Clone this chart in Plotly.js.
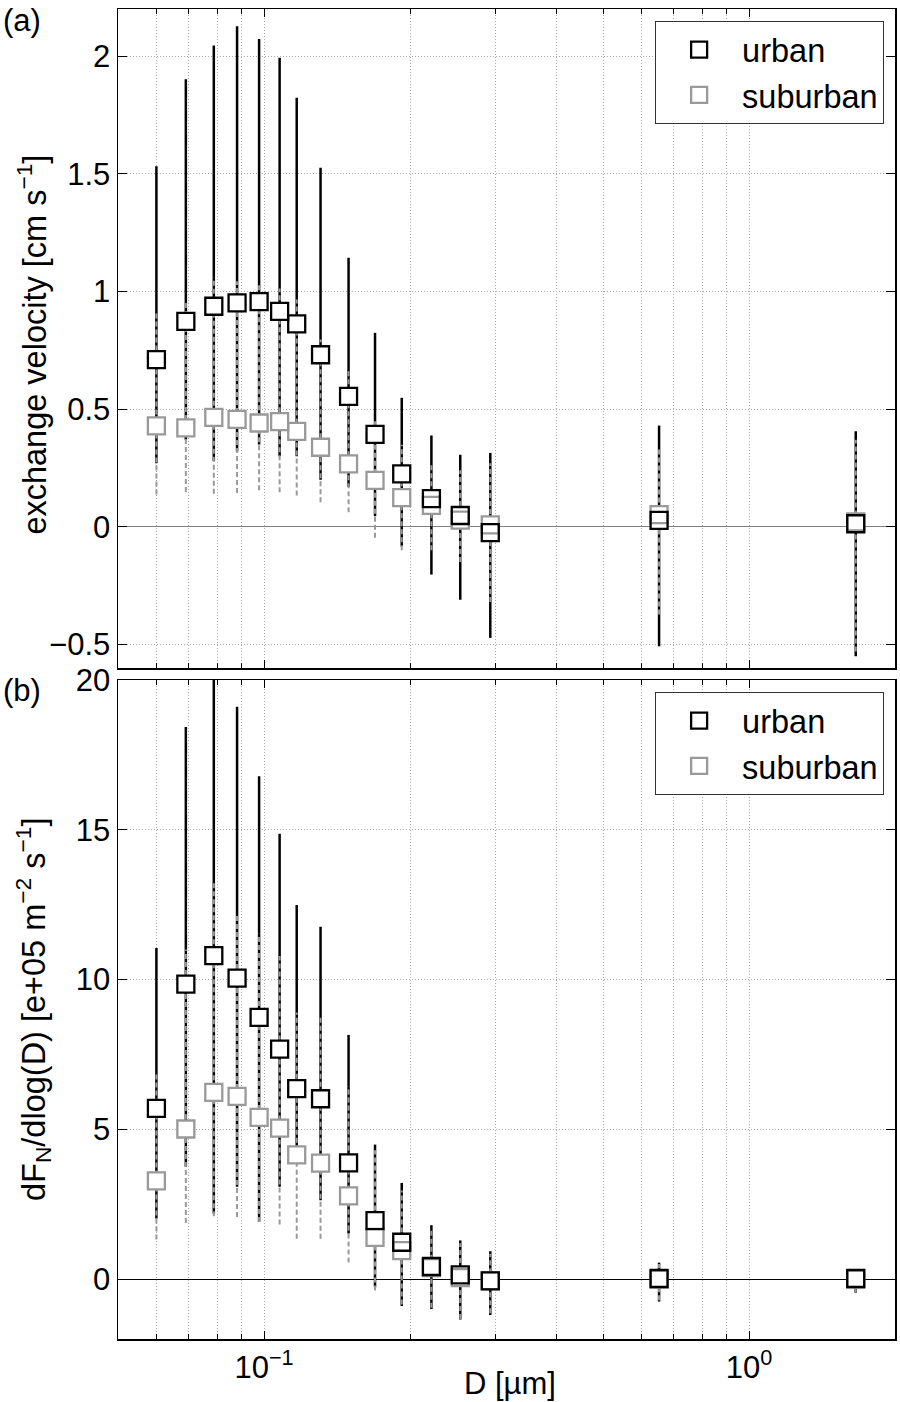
<!DOCTYPE html>
<html>
<head>
<meta charset="utf-8">
<script src="https://cdn.plot.ly/plotly-3.0.1.min.js"></script>
<style>
  html, body { margin: 0; padding: 0; background: #fff; }
  #chart { width: 900px; height: 1402px; }
</style>
</head>
<body>
<div id="chart"></div>
<script>
// particle diameter bins [um]
const diameters = [0.06, 0.069, 0.0788, 0.088, 0.0977, 0.1077, 0.1168, 0.1308, 0.1494, 0.1694, 0.1923, 0.2214, 0.2539, 0.2928, 0.6525, 1.66];

// (a) exchange velocity [cm/s]
const urbanVel   = [0.71, 0.873, 0.937, 0.951, 0.957, 0.915, 0.862, 0.731, 0.554, 0.393, 0.225, 0.12, 0.048, -0.025, 0.027, 0.013];
const urbanVelHi = [1.532, 1.901, 2.045, 2.127, 2.073, 1.993, 1.823, 1.525, 1.143, 0.824, 0.548, 0.388, 0.306, 0.314, 0.43, 0.406];
const urbanVelLo = [0.27, 0.37, 0.28, 0.32, 0.35, 0.30, 0.30, 0.20, 0.17, 0.045, -0.083, -0.203, -0.31, -0.472, -0.508, -0.55];
const subVel     = [0.429, 0.42, 0.465, 0.456, 0.441, 0.447, 0.405, 0.338, 0.267, 0.197, 0.124, 0.091, 0.028, 0.008, 0.052, 0.021];
const subVelHi   = [0.91, 0.958, 1.059, 1.043, 1.037, 1.012, 0.966, 0.796, 0.661, 0.448, 0.349, 0.264, 0.24, 0.27, 0.33, 0.37];
const subVelLo   = [0.137, 0.148, 0.14, 0.144, 0.155, 0.147, 0.133, 0.104, 0.062, -0.047, -0.1, -0.1, -0.15, -0.32, -0.373, -0.53];

// (b) dF_N/dlog(D) [e+05 m-2 s-1]
const urbanFlux   = [5.70, 9.85, 10.80, 10.05, 8.74, 7.68, 6.36, 6.02, 3.88, 1.95, 1.23, 0.42, 0.14, -0.06, 0.02, 0.02];
const urbanFluxHi = [11.05, 18.43, 21.0, 19.11, 16.79, 14.87, 12.49, 11.76, 8.15, 4.49, 3.21, 1.80, 1.29, 0.93, 0.55, 0.32];
const urbanFluxLo = [2.02, 3.75, 2.19, 3.08, 1.91, 3.08, 3.86, 2.63, 1.52, -0.27, -0.9, -1.0, -1.35, -1.2, -0.75, -0.45];
const subFlux     = [3.28, 5.01, 6.23, 6.10, 5.40, 5.04, 4.15, 3.87, 2.78, 1.39, 0.95, 0.38, 0.05, -0.05, 0.0, 0.0];
const subFluxHi   = [6.89, 11.0, 13.28, 12.22, 11.53, 10.79, 8.90, 8.74, 6.44, 4.3, 2.96, 1.7, 1.2, 0.85, 0.5, 0.3];
const subFluxLo   = [1.32, 1.87, 2.10, 2.07, 1.91, 1.82, 1.35, 1.35, 0.55, -0.38, -0.85, -0.96, -1.33, -1.14, -0.71, -0.43];

// axis ticks
const majorTicks = [0.1, 1];
const majorText = ["10<sup>\u22121</sup>", "10<sup>0</sup>"];
const minorTicks = [0.06, 0.07, 0.08, 0.09, 0.2, 0.3, 0.4, 0.5, 0.6, 0.7, 0.8, 0.9, 2];

const FONT = "Liberation Sans, Arial, Helvetica, sans-serif";
const GRAY = "#999999";

// vertical range lines, one segment per bin
const rangeLines = (lo, hi) => {
    const xs = [], ys = [];
    diameters.forEach((d, i) => {
        xs.push(d, d, null);
        ys.push(lo[i], hi[i], null);
    });
    return { x: xs, y: ys };
};

const panelTraces = (xa, ya, legend, uVal, uLo, uHi, sVal, sLo, sHi) => {
    const u = rangeLines(uLo, uHi);
    const s = rangeLines(sLo, sHi);
    return [
        { x: u.x, y: u.y, xaxis: xa, yaxis: ya, mode: "lines", showlegend: false, hoverinfo: "skip",
          line: { color: "#000", width: 2.5 } },
        { x: s.x, y: s.y, xaxis: xa, yaxis: ya, mode: "lines", showlegend: false, hoverinfo: "skip",
          line: { color: GRAY, width: 2, dash: "5px,3px" } },
        // white fill so the lines do not run through the squares
        { x: diameters.concat(diameters), y: sVal.concat(uVal), xaxis: xa, yaxis: ya, mode: "markers",
          showlegend: false, hoverinfo: "skip",
          marker: { symbol: "square", size: 17, color: "#fff", line: { width: 0 } } },
        { x: diameters, y: sVal, xaxis: xa, yaxis: ya, mode: "markers", name: "suburban",
          legend: legend, legendrank: 2,
          marker: { symbol: "square-open", size: 17, color: GRAY, line: { color: GRAY, width: 2.3 } } },
        { x: diameters, y: uVal, xaxis: xa, yaxis: ya, mode: "markers", name: "urban",
          legend: legend, legendrank: 1,
          marker: { symbol: "square-open", size: 17, color: "#000", line: { color: "#000", width: 2.3 } } }
    ];
};

const data = [].concat(
    panelTraces("x2", "y2", "legend", urbanVel, urbanVelLo, urbanVelHi, subVel, subVelLo, subVelHi),
    panelTraces("x", "y", "legend2", urbanFlux, urbanFluxLo, urbanFluxHi, subFlux, subFluxLo, subFluxHi)
);

const H = 1402, T = 9, B = 63;
const plotH = H - T - B;
const gap = 12 / plotH;
const botTop = 0.5 - gap / 2;
const topBot = 0.5 + gap / 2;

const xBase = {
    type: "log",
    range: [Math.log10(0.05), Math.log10(2)],
    tickmode: "array",
    tickvals: majorTicks,
    ticktext: majorText,
    ticks: "inside",
    ticklen: 8,
    tickcolor: "#000",
    showline: true,
    linecolor: "#000",
    linewidth: 1.5,
    mirror: "ticks",
    showgrid: true,
    gridcolor: "#aaaaaa",
    griddash: "1px,2px",
    gridwidth: 1,
    zeroline: false,
    tickfont: { family: FONT, size: 31, color: "#000" },
    minor: {
        tickvals: minorTicks,
        ticks: "inside",
        ticklen: 5,
        tickcolor: "#000",
        showgrid: true,
        gridcolor: "#aaaaaa",
        griddash: "1px,2px",
        gridwidth: 1
    }
};

const yBase = {
    ticks: "inside",
    ticklen: 9,
    tickcolor: "#000",
    showline: true,
    linecolor: "#000",
    linewidth: 1.5,
    mirror: "ticks",
    showgrid: true,
    gridcolor: "#aaaaaa",
    griddash: "1px,2px",
    gridwidth: 1,
    zeroline: true,
    zerolinewidth: 1,
    tickfont: { family: FONT, size: 31, color: "#000" }
};

const legendBase = {
    x: 0.986,
    xanchor: "right",
    yanchor: "top",
    bgcolor: "#fff",
    bordercolor: "#333",
    borderwidth: 1,
    itemwidth: 76,
    font: { family: FONT, size: 32.5, color: "#000" }
};

const layout = {
    width: 900,
    height: H,
    margin: { l: 118, r: 5, t: T, b: B },
    paper_bgcolor: "#fff",
    plot_bgcolor: "#fff",
    font: { family: FONT, size: 31, color: "#000" },
    xaxis: Object.assign({}, xBase, { anchor: "y" }),
    xaxis2: Object.assign({}, xBase, { anchor: "y2", matches: "x", showticklabels: false }),
    yaxis: Object.assign({}, yBase, {
        domain: [0, botTop], range: [-2, 20], dtick: 5, tick0: 0, zerolinecolor: "#000"
    }),
    yaxis2: Object.assign({}, yBase, {
        domain: [topBot, 1], range: [-0.6, 2.2], dtick: 0.5, tick0: 0, zerolinecolor: "#808080"
    }),
    legend: Object.assign({}, legendBase, { y: 1 - gap }),
    legend2: Object.assign({}, legendBase, { y: botTop - gap }),
    annotations: [
        { text: "exchange velocity [cm s<sup>\u22121</sup>]", xref: "paper", yref: "y2 domain",
          x: -0.11, y: 0.49, textangle: -90, showarrow: false, xanchor: "center", yanchor: "middle",
          font: { family: FONT, size: 32.5 } },
        { text: "dF<sub>N</sub>/dlog(D) [e+05 m<sup>\u22122</sup> s<sup>\u22121</sup>]", xref: "paper", yref: "y domain",
          x: -0.11, y: 0.5, textangle: -90, showarrow: false, xanchor: "center", yanchor: "middle",
          font: { family: FONT, size: 32.5 } },
        { text: "(a)", xref: "paper", yref: "y2 domain", x: -0.151, y: 1, xanchor: "left", yanchor: "top",
          yshift: 8, showarrow: false, font: { family: FONT, size: 31 } },
        { text: "(b)", xref: "paper", yref: "y domain", x: -0.151, y: 1, xanchor: "left", yanchor: "top",
          yshift: 9, showarrow: false, font: { family: FONT, size: 31 } },
        { text: "D [\u00b5m]", xref: "paper", yref: "paper", x: 0.504, y: 0, yshift: -44,
          xanchor: "center", yanchor: "middle", showarrow: false, font: { family: FONT, size: 31 } }
    ]
};

Plotly.newPlot("chart", data, layout, { staticPlot: true });
</script>
</body>
</html>
